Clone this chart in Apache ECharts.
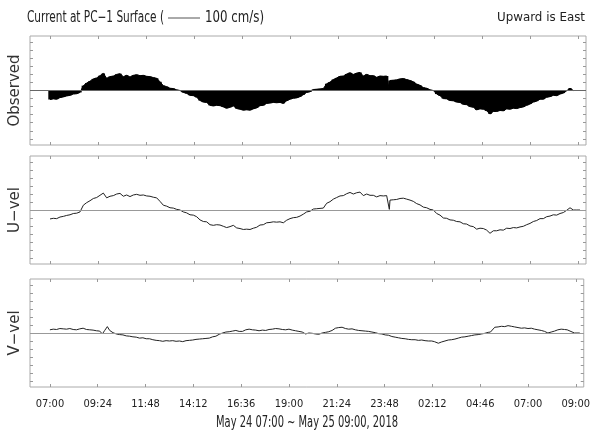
<!DOCTYPE html>
<html><head><meta charset="utf-8">
<script src="https://cdn.jsdelivr.net/npm/echarts@6/dist/echarts.min.js"></script>
<style>html,body{margin:0;padding:0;background:#fff}#c{width:593px;height:439px}</style>
</head><body><div id="c"></div>
<script>
// ---- data (minutes after May 24 07:00; velocities in cm/s) ----
const tickMinutes = [0,144,288,432,576,720,864,1008,1152,1296,1440,1584];
const tickLabels = ['07:00','09:24','11:48','14:12','16:36','19:00','21:24','23:48','02:12','04:46','07:00','09:00'];
const panelNames = ['Observed','U\u2212vel','V\u2212vel'];
const yTickValues = [-150,-125,-100,-75,-50,-25,0,25,50,75,100,125,150];

const uTime = [0,10,20,30,40,50,60,70,80,90,100,110,120,130,140,150,160,170,180,190,200,210,220,230,240,250,260,270,280,290,300,310,320,330,340,350,360,370,380,390,400,410,420,430,440,450,460,470,480,490,500,510,520,530,540,550,560,570,580,590,600,610,620,630,640,650,660,670,680,690,700,710,720,730,740,750,760,770,780,790,800,810,820,830,840,850,860,870,880,890,900,910,920,930,940,950,960,970,980,990,1000,1010,1018,1020,1030,1040,1050,1060,1070,1080,1090,1100,1110,1120,1130,1140,1150,1160,1170,1180,1190,1200,1210,1220,1230,1240,1250,1260,1270,1280,1290,1300,1310,1320,1330,1340,1350,1360,1370,1380,1390,1400,1410,1420,1430,1440,1450,1460,1470,1480,1490,1500,1510,1520,1530,1540,1550,1560,1570,1580,1590];
const uVel = [-28,-26,-27,-22,-20,-17,-15,-11,-10,-6,15,23,29,36,39,46,53,38,43,45,50,52,43,47,42,47,49,46,47,44,43,40,38,27,15,12,7,6,2,0,-6,-9,-15,-16,-21,-31,-36,-37,-46,-48,-46,-47,-51,-55,-52,-48,-56,-58,-61,-60,-61,-57,-54,-47,-46,-40,-39,-37,-38,-37,-40,-32,-27,-24,-23,-19,-13,-6,-4,3,4,5,6,21,26,34,39,44,45,51,55,50,54,56,45,50,46,46,41,45,44,45,2,31,32,33,36,37,34,31,27,20,16,9,7,2,0,-11,-16,-25,-26,-31,-32,-36,-37,-43,-44,-50,-52,-60,-57,-58,-63,-73,-65,-65,-62,-63,-57,-58,-55,-56,-53,-51,-46,-42,-36,-33,-27,-27,-21,-19,-15,-16,-11,-8,-1,7,0,0,0];

const vTime = [0,10,20,30,40,50,60,70,80,90,100,110,120,130,140,150,158,165,173,180,190,200,210,220,230,240,250,260,270,280,290,300,310,320,330,340,350,360,370,380,390,400,410,420,430,440,450,460,470,480,490,500,510,520,530,540,550,560,570,580,590,600,610,620,630,640,650,660,670,680,690,700,710,720,730,740,750,760,770,780,790,800,810,820,830,840,850,860,870,880,890,900,910,920,930,940,950,960,970,980,990,1000,1010,1020,1030,1040,1050,1060,1070,1080,1090,1100,1110,1120,1130,1140,1150,1158,1170,1180,1190,1200,1210,1220,1230,1240,1250,1260,1270,1280,1290,1300,1310,1320,1327,1332,1340,1350,1360,1370,1380,1390,1400,1410,1420,1430,1440,1450,1460,1470,1480,1490,1500,1510,1520,1530,1540,1550,1558,1563,1580,1596];
const vVel = [10,12,11,14,13,12,14,11,10,13,15,11,10,9,7,6,-3,8,20,8,1,-3,-5,-6,-9,-10,-12,-13,-16,-15,-18,-18,-21,-23,-24,-26,-24,-25,-24,-26,-25,-27,-24,-23,-22,-20,-19,-18,-17,-16,-12,-10,-4,0,3,4,6,8,5,5,10,12,10,9,7,9,8,11,12,14,13,11,10,12,9,7,5,3,-3,0,-1,-3,-4,0,2,4,8,15,17,18,14,12,13,10,8,7,6,5,3,1,-2,-3,-6,-7,-11,-13,-15,-17,-18,-20,-21,-21,-23,-22,-24,-25,-25,-27,-32,-28,-25,-22,-21,-19,-16,-13,-12,-10,-8,-6,-5,-3,-1,2,3,4,18,19,21,20,23,21,19,17,15,16,14,15,12,10,8,5,0,3,6,10,12,11,10,14,0,0,0];

// ---- layout / style ----
const X_MIN = -60, X_MAX = 1608, Y_MIN = -169, Y_MAX = 169;
const FONT_N = '"DejaVu Sans Condensed","Liberation Sans Narrow","Liberation Sans",sans-serif';
const grids = [{top:36,height:109},{top:156,height:108},{top:279,height:108}];
const GRAY = '#aaaaaa', TICK = '#999999';

const zip = (t, v) => t.map((x, i) => [x, v[i]]);
const uData = zip(uTime, uVel), vData = zip(vTime, vVel);

const xAxes = [], yAxes = [];
grids.forEach((g, i) => {
  ['bottom','top'].forEach(pos => {
    xAxes.push({
      type:'value', gridIndex:i, position:pos, min:X_MIN, max:X_MAX,
      axisLine:{show:false, onZero:false}, splitLine:{show:false},
      axisTick:{show:true, inside:true, length:3, customValues:tickMinutes, lineStyle:{color:TICK}},
      axisLabel:{show: i===2 && pos==='bottom', customValues:tickMinutes, margin:12,
        formatter: v => tickLabels[tickMinutes.indexOf(v)] || '',
        fontFamily:FONT_N, fontSize:11, color:'#222'}
    });
  });
  ['left','right'].forEach(pos => {
    yAxes.push({
      type:'value', gridIndex:i, position:pos, min:Y_MIN, max:Y_MAX,
      axisLine:{show:false, onZero:false}, splitLine:{show:false},
      axisTick:{show:true, inside:true, length:3, customValues:yTickValues, lineStyle:{color:TICK}},
      axisLabel:{show:false},
      name: pos==='left' ? panelNames[i] : '',
      nameLocation:'middle', nameGap:7, nameRotate:90,
      nameTextStyle:{fontFamily:'"DejaVu Sans",sans-serif', fontSize:15, color:'#333'}
    });
  });
});

const zeroLine = color => ({silent:true, symbol:['none','none'], label:{show:false},
  lineStyle:{color:color, width:1, type:'solid'}, data:[{yAxis:0}], animation:false});

// text fitted horizontally to the reference widths
const ctx = document.createElement('canvas').getContext('2d');
function fitText(text, fontPx, x, y, width, align, fill) {
  const font = fontPx + 'px ' + FONT_N;
  ctx.font = font;
  const w = ctx.measureText(text).width || width;
  return {type:'text', x:x, y:y, scaleX: width / w,
    style:{text:text, font:font, fill:fill || '#222', textAlign:align, textVerticalAlign:'middle'}};
}

const chart = echarts.init(document.getElementById('c'), null, {renderer:'canvas'});
chart.setOption({
  animation:false,
  backgroundColor:'#fff',
  grid: grids.map(g => ({left:27, right:7, top:g.top, height:g.height, show:true,
    borderColor:GRAY, borderWidth:1, backgroundColor:'transparent'})),
  xAxis: xAxes,
  yAxis: yAxes,
  series: [
    // observed: filled envelope of east component ...
    {type:'line', xAxisIndex:0, yAxisIndex:0, data:uData, showSymbol:false, z:3,
     lineStyle:{color:'#000', width:1}, areaStyle:{color:'#000', opacity:1, origin:0},
     markLine: zeroLine('#666')},
    // ... drawn as overlapping sticks
    {type:'custom', xAxisIndex:0, yAxisIndex:0, data:uData, z:4, clip:true,
     encode:{x:0, y:1},
     renderItem: (params, api) => {
       const t = api.value(0), u = api.value(1);
       const p0 = api.coord([t, 0]), p1 = api.coord([t, u]);
       return {type:'line', shape:{x1:p0[0], y1:p0[1], x2:p1[0], y2:p1[1]},
               style:{stroke:'#000', lineWidth:3.4}};
     }},
    {type:'line', xAxisIndex:2, yAxisIndex:2, data:uData, showSymbol:false, z:3,
     lineStyle:{color:'#222', width:1}, markLine: zeroLine('#999')},
    {type:'line', xAxisIndex:4, yAxisIndex:4, data:vData, showSymbol:false, z:3,
     lineStyle:{color:'#222', width:1}, markLine: zeroLine('#999')}
  ],
  graphic: [
    fitText('Current at PC\u22121 Surface (', 15, 27, 18, 137, 'left'),
    {type:'line', shape:{x1:168, y1:18, x2:200, y2:18}, style:{stroke:'#555', lineWidth:1}},
    fitText('100 cm/s)', 15, 205, 18, 59, 'left'),
    fitText('Upward is East', 12, 585, 18, 88, 'right'),
    fitText('May 24 07:00 ~ May 25 09:00, 2018', 16, 307, 423, 182, 'center')
  ]
});
</script></body></html>
